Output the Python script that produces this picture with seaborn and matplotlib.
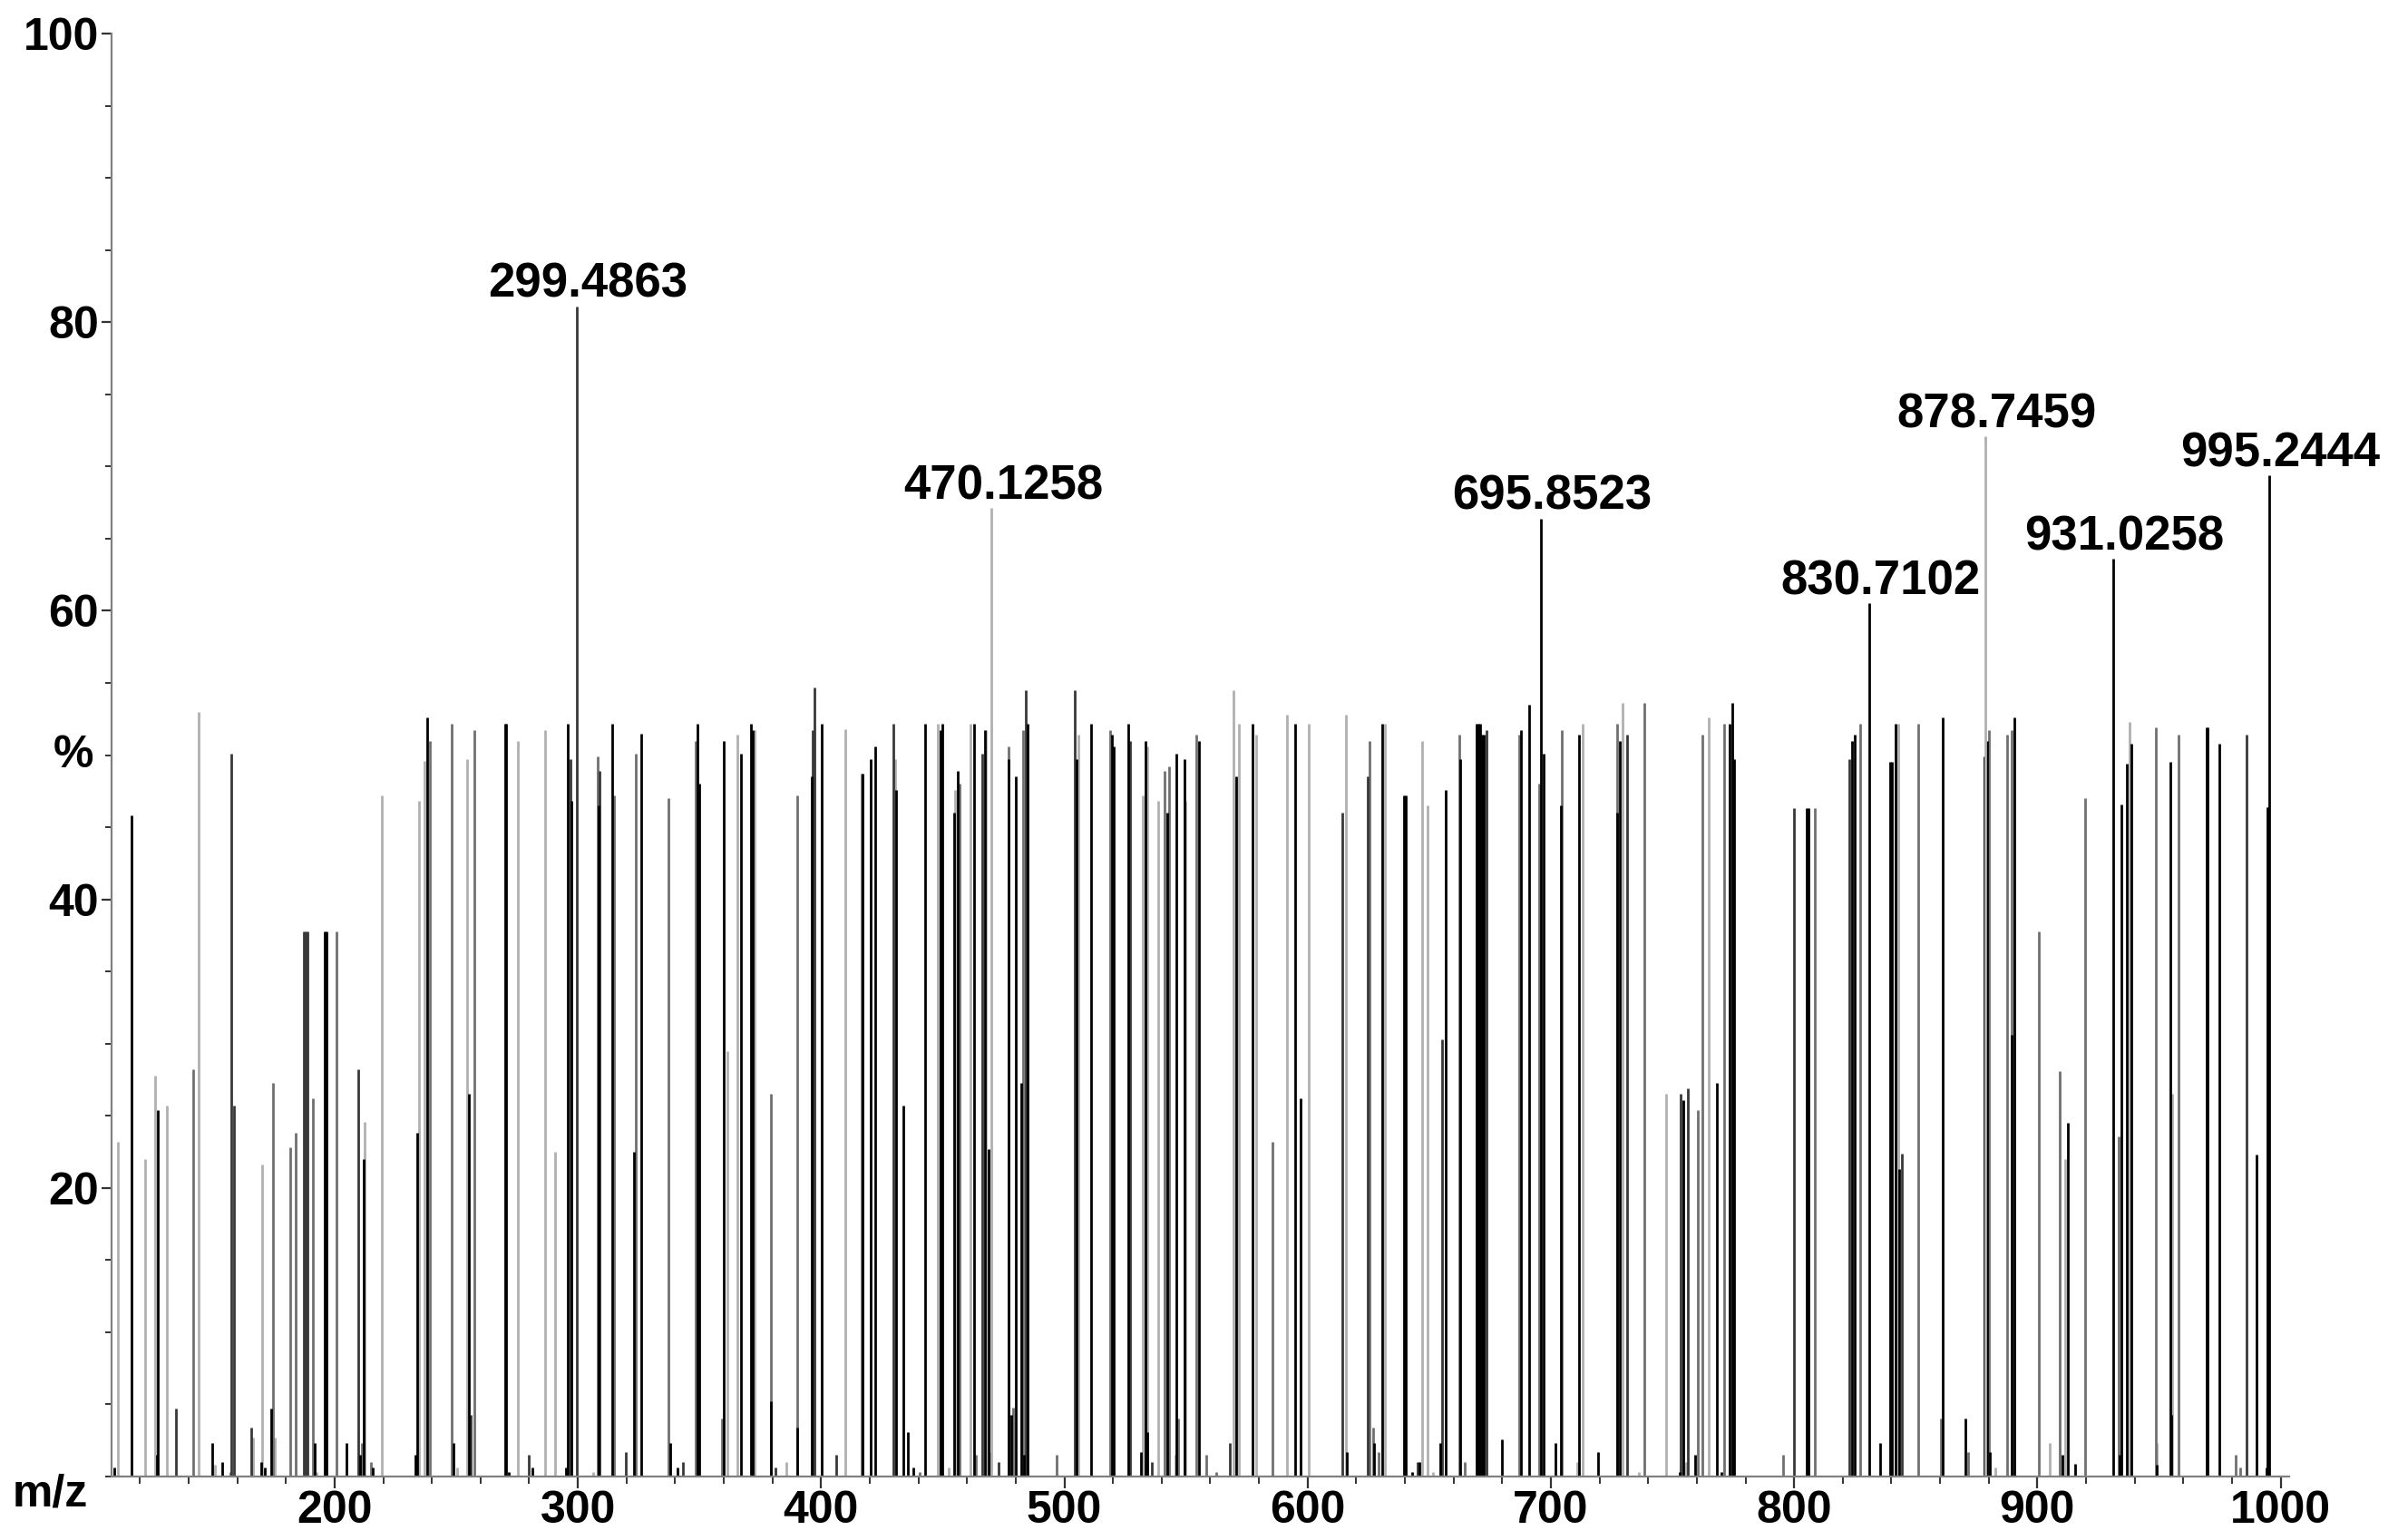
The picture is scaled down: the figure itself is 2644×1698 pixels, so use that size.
import matplotlib.pyplot as plt
import seaborn as sns
from matplotlib.ticker import MultipleLocator

# peaks, grouped by the shade they are drawn in
black_mz = [109.4, 116.5, 127.0, 127.3, 149.8, 153.7, 170.0, 171.5, 174.0, 191.8,
            195.8, 196.6, 205.0, 210.4, 212.0, 215.8, 233.1, 234.1, 238.1, 249.0,
            255.2, 270.0, 270.6, 271.5, 281.4, 295.3, 296.0, 297.4, 308.5, 314.0,
            323.1, 326.0, 338.0, 341.1, 349.1, 349.9, 360.1, 367.1, 371.2, 372.0,
            379.4, 390.3, 396.2, 400.2, 417.0, 420.3, 422.3, 430.7, 433.9, 435.8,
            437.9, 442.8, 449.0, 449.9, 454.8, 456.1, 463.0, 467.2, 468.8, 469.7,
            477.2, 478.0, 480.2, 482.1, 483.5, 484.9, 505.1, 511.1, 519.6, 520.3,
            526.1, 531.4, 533.2, 534.0, 542.2, 546.2, 549.3, 555.2, 570.7, 577.5,
            594.9, 597.1, 616.2, 627.4, 630.5, 639.6, 640.2, 643.0, 646.0, 654.4,
            656.6, 662.8, 669.6, 670.3, 671.0, 671.7, 672.6, 679.8, 687.9, 691.0,
            696.9, 701.9, 704.3, 711.5, 719.3, 727.4, 728.3, 752.8, 754.4, 759.3,
            768.4, 770.3, 773.6, 774.5, 775.4, 805.3, 806.0, 823.9, 825.1, 835.3,
            839.4, 840.3, 841.7, 843.3, 861.2, 870.4, 878.4, 879.4, 880.3, 889.6,
            890.4, 910.3, 912.4, 915.4, 933.9, 934.5, 936.6, 938.6, 949.1, 954.7,
            955.0, 969.6, 969.9, 974.9, 990.1, 994.3, 994.6, 994.9]
black_int = [0.6, 45.8, 1.5, 25.4, 2.3, 1.0, 1.0, 0.6, 4.7, 2.3,
             37.8, 37.8, 2.3, 1.5, 22.0, 0.6, 1.5, 23.8, 52.6, 2.3,
             26.5, 52.2, 52.2, 0.3, 0.6, 0.6, 52.2, 46.8, 46.5, 52.2,
             22.5, 51.5, 2.3, 0.6, 52.2, 48.0, 51.0, 50.1, 52.2, 51.7,
             5.2, 3.4, 48.5, 52.2, 48.7, 49.7, 50.6, 47.6, 25.7, 3.1,
             0.6, 52.2, 51.7, 52.2, 46.0, 48.9, 52.2, 51.7, 22.7, 1.7,
             49.7, 4.3, 48.5, 27.3, 1.5, 52.2, 49.7, 52.2, 51.4, 50.6,
             52.2, 1.7, 51.0, 3.1, 46.0, 50.1, 49.7, 51.0, 48.5, 52.2,
             52.2, 26.2, 1.7, 2.3, 52.2, 47.2, 47.2, 0.3, 1.0, 2.3,
             47.6, 49.7, 52.2, 52.2, 52.2, 51.4, 51.4, 2.6, 51.7, 53.5,
             50.1, 2.3, 46.5, 51.4, 1.7, 46.0, 51.0, 0.3, 26.1, 1.5,
             27.3, 0.3, 52.2, 53.6, 49.7, 46.3, 46.3, 51.0, 51.4, 2.3,
             49.5, 49.5, 52.2, 21.3, 52.6, 4.0, 49.9, 51.0, 1.7, 30.6,
             52.6, 1.5, 24.5, 0.9, 1.5, 46.6, 49.4, 50.8, 0.8, 49.5,
             4.3, 51.9, 51.9, 50.8, 22.3, 0.6, 46.4, 46.4]

dark_mz = [134.7, 157.7, 158.7, 165.8, 187.3, 188.1, 188.9, 209.9, 256.0, 279.8,
           296.9, 308.9, 319.8, 343.1, 381.1, 396.6, 397.2, 406.4, 429.8, 466.1,
           473.1, 484.0, 504.1, 527.0, 535.9, 568.2, 614.3, 624.6, 645.2, 655.4,
           673.4, 731.2, 753.4, 756.2, 799.8, 822.6, 844.2, 986.0]
dark_int = [4.7, 50.1, 25.7, 3.4, 37.8, 37.8, 37.8, 28.2, 4.3, 1.5,
            49.7, 48.9, 1.7, 1.0, 0.6, 51.7, 54.7, 1.5, 52.2, 50.1,
            1.0, 54.5, 54.5, 51.0, 1.0, 2.3, 46.0, 48.5, 1.0, 30.3,
            51.7, 51.4, 26.5, 26.9, 46.3, 49.7, 22.4, 51.4]

gray_mz = [141.7, 157.1, 174.8, 181.6, 183.9, 191.0, 200.9, 211.2, 215.0, 239.1,
           248.3, 257.3, 308.0, 314.9, 323.9, 337.1, 348.3, 359.4, 379.2, 390.1,
           416.7, 440.6, 456.8, 463.7, 477.1, 478.9, 483.0, 497.0, 518.9, 541.2,
           543.1, 546.9, 554.2, 558.2, 562.3, 585.4, 625.3, 627.0, 629.0, 662.3,
           664.6, 686.9, 695.2, 704.5, 727.1, 738.4, 760.4, 762.4, 771.4, 795.6,
           808.7, 827.0, 851.2, 860.4, 871.4, 880.2, 887.4, 889.3, 900.5, 909.3,
           919.5, 933.5, 948.7, 957.9, 981.4, 983.2]
gray_int = [28.2, 0.3, 27.3, 22.8, 23.8, 26.2, 37.8, 2.3, 1.0, 51.0,
            52.2, 51.7, 49.9, 47.2, 50.1, 47.0, 51.0, 4.0, 26.5, 47.2,
            48.7, 0.3, 48.0, 1.5, 50.6, 4.8, 51.7, 1.5, 51.7, 48.9,
            49.2, 4.0, 51.4, 1.5, 0.3, 23.2, 51.0, 3.4, 1.7, 51.4,
            1.0, 51.4, 48.0, 51.7, 52.2, 53.6, 25.4, 51.4, 52.2, 1.5,
            46.3, 52.2, 52.2, 4.0, 1.7, 51.7, 51.4, 51.7, 37.8, 28.1,
            47.0, 23.6, 51.9, 51.4, 1.5, 0.6]

light_mz = [110.9, 122.1, 126.1, 131.0, 144.0, 150.8, 166.5, 170.2, 175.5, 192.7,
            212.4, 219.5, 234.7, 236.8, 250.3, 254.6, 275.5, 286.4, 290.5, 306.2,
            361.6, 365.6, 372.6, 385.6, 409.9, 430.4, 448.0, 452.5, 455.2, 461.4,
            467.9, 505.7, 532.2, 534.2, 538.7, 545.5, 549.9, 569.7, 571.8, 579.0,
            591.5, 600.6, 615.6, 631.8, 647.0, 649.3, 651.7, 711.0, 713.2, 729.3,
            736.0, 747.2, 755.4, 764.8, 842.7, 882.7, 905.2, 911.6, 937.9, 948.9,
            955.6]
light_int = [23.2, 22.0, 27.8, 25.7, 53.0, 0.8, 2.7, 21.6, 2.7, 0.3,
             24.6, 47.2, 46.8, 49.6, 0.6, 49.7, 51.0, 51.7, 22.5, 0.3,
             29.5, 51.4, 51.7, 1.0, 51.8, 49.7, 52.2, 0.6, 47.6, 52.2,
             51.7, 51.4, 47.2, 50.6, 46.8, 1.5, 46.8, 54.5, 52.2, 51.4,
             52.8, 52.2, 52.8, 52.2, 51.0, 46.5, 0.3, 1.0, 52.2, 53.6,
             0.3, 26.5, 1.0, 52.6, 52.2, 0.6, 2.3, 22.0, 52.3, 2.3,
             26.5]

# annotated peaks
label_mz = [299.4863, 470.1258, 695.8523, 830.7102, 878.7459, 931.0258, 995.2444]
label_int = [81.1, 67.1, 66.4, 60.5, 72.1, 63.6, 69.4]
label_shade = ["dark", "light", "black", "black", "light", "black", "black"]

shades = {"light": "#b0b0b0", "gray": "#707070", "dark": "#383838", "black": "#000000"}

sns.set_theme(style="ticks")
plt.rcParams['font.family'] = ['Liberation Sans', 'DejaVu Sans']
plt.rcParams['font.weight'] = 'bold'
plt.rcParams['text.color'] = 'black'
plt.rcParams['xtick.labelcolor'] = 'black'
plt.rcParams['ytick.labelcolor'] = 'black'

fig = plt.figure(figsize=(26.44, 16.98), dpi=100)
ax = fig.add_axes([0.0465, 0.0412, 0.9081, 0.937])

lw = 2.0
ax.vlines(light_mz, 0, light_int, color=shades["light"], lw=lw)
ax.vlines(gray_mz, 0, gray_int, color=shades["gray"], lw=lw)
ax.vlines(dark_mz, 0, dark_int, color=shades["dark"], lw=lw)
ax.vlines(black_mz, 0, black_int, color=shades["black"], lw=lw)
for m, h, s in zip(label_mz, label_int, label_shade):
    ax.vlines(m, 0, h, color=shades[s], lw=lw)
    ax.annotate(f"{m:.4f}", xy=(m, h), xytext=(9, 7), textcoords="offset points",
                ha="center", va="baseline", fontsize=38, fontweight="bold",
                color="black", annotation_clip=False)

ax.set_xlim(108.3, 1003.5)
ax.set_ylim(0, 100)
ax.set_xticks(range(200, 1001, 100))
ax.xaxis.set_minor_locator(MultipleLocator(20))
ax.set_yticks([20, 40, 60, 80, 100])
ax.yaxis.set_minor_locator(MultipleLocator(5))

ax.tick_params(axis="x", which="major", length=9, width=1.6, color="#333333",
               labelsize=36, pad=2)
ax.tick_params(axis="x", which="minor", length=6, width=1.4, color="#333333")
ax.tick_params(axis="y", which="major", length=8, width=1.6, color="#333333",
               labelsize=36, pad=2)
ax.tick_params(axis="y", which="minor", length=5, width=1.4, color="#333333")

sns.despine(ax=ax)
for side in ("left", "bottom"):
    ax.spines[side].set_color("#808080")
    ax.spines[side].set_linewidth(1.6)

ax.annotate("%", xy=(0, 50), xycoords=("axes fraction", "data"), xytext=(-30, 0),
            textcoords="offset points", ha="center", va="center", fontsize=36,
            fontweight="bold", color="black")
fig.text(0.005, 0.030, "m/z", ha="left", va="center", fontsize=36,
         fontweight="bold", color="black")

fig.savefig("out.png", dpi=100)
